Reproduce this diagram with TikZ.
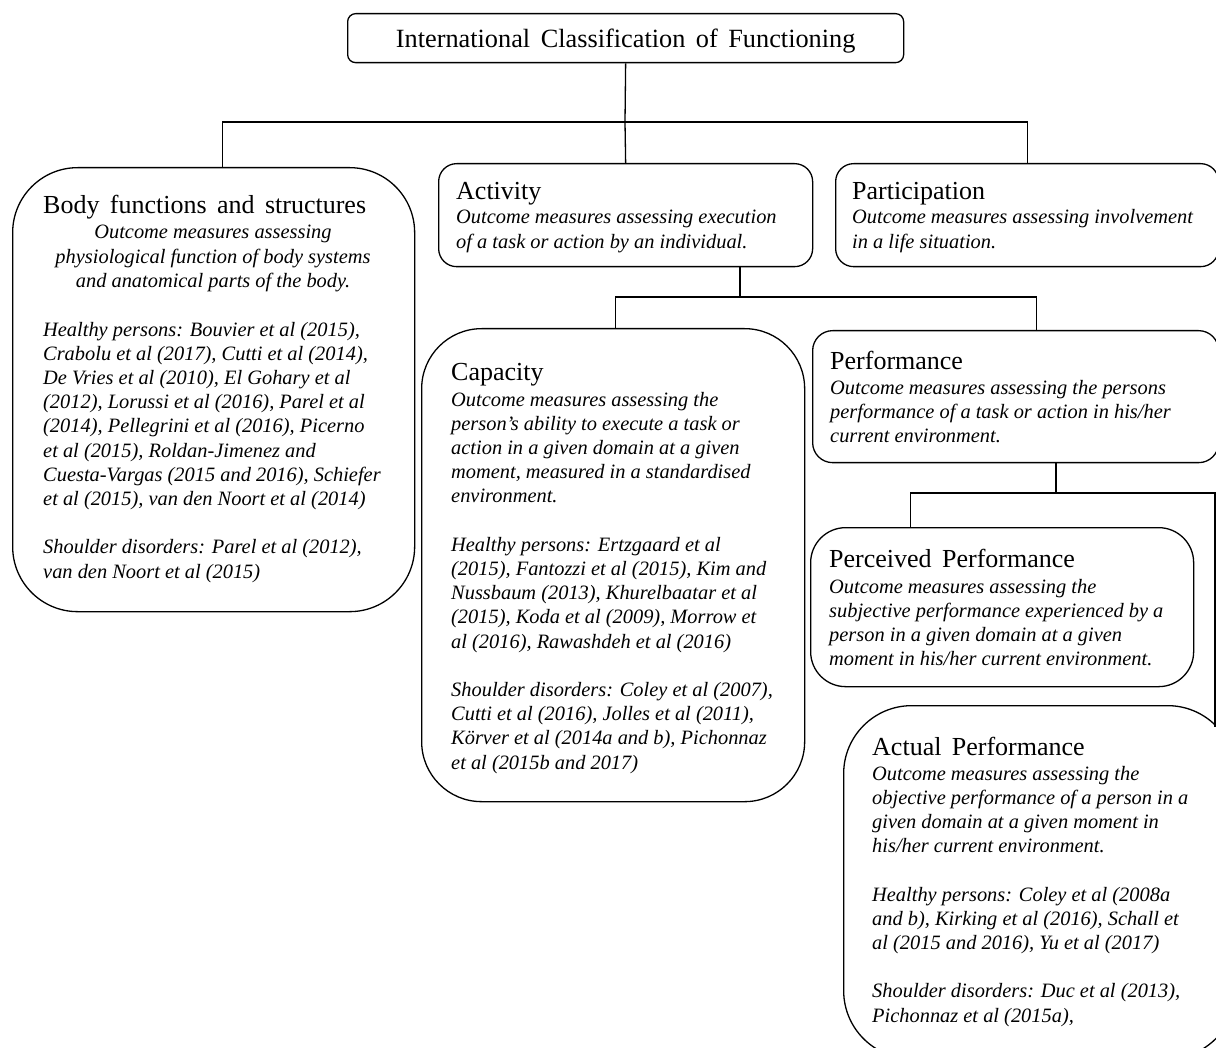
\documentclass[tikz,border=0pt]{standalone}
\usepackage{fontspec}
\setmainfont{Liberation Serif}
\newfontfamily\hdfamily[WordSpace=1.6]{Liberation Serif}
\begin{document}
\begin{tikzpicture}[x=1pt,y=-1pt,
  box/.style={draw=black, line width=1.3pt, rounded corners=#1, anchor=north west, inner sep=0pt},
  hd/.style={anchor=base west, inner sep=0pt, font=\hdfamily\fontsize{26pt}{30pt}\selectfont},
  ds/.style={anchor=base west, inner sep=0pt, align=left, font=\fontsize{20.4pt}{24.2pt}\selectfont\itshape},
  ln/.style={line width=1.3pt}]
\useasboundingbox (0,0) rectangle (1216,1048);
\fill[white] (0,0) rectangle (1216,1048);
\clip (0,0) rectangle (1216,1048);

% boxes
\node[box=8pt, minimum width=556pt, minimum height=49pt] (icf) at (347,13) {};
\node[box=65pt, minimum width=402pt, minimum height=444pt] (body) at (12,167) {};
\node[box=18pt, minimum width=374pt, minimum height=103pt] (act) at (438,163) {};
\node[box=18pt, minimum width=383pt, minimum height=103pt] (part) at (835,163) {};
\node[box=60pt, minimum width=383pt, minimum height=473pt] (cap) at (421,328) {};
\node[box=20pt, minimum width=406pt, minimum height=132pt] (perf) at (812,330) {};
\node[box=35pt, minimum width=383pt, minimum height=159pt] (perc) at (810,527) {};
\node[box=68pt, minimum width=392pt, minimum height=353pt] (actual) at (843,705) {};

% connectors
\coordinate (j1) at (625,122);
\coordinate (j2) at (740,297);
\coordinate (j3) at (1056,493);
\coordinate (fe) at (1215,727);
\draw[ln] (icf.south) -- (j1);
\draw[ln] ([xshift=9pt]body.north) |- (j1) -| (part.north);
\draw[ln] (j1) -- (act.north);
\draw[ln] (act.south -| j2) -- (j2);
\draw[ln] ([xshift=2.5pt]cap.north) |- (j2) -| ([xshift=21pt]perf.north);
\draw[ln] (perf.south -| j3) -- (j3);
\draw[ln] ([xshift=-91.5pt]perc.north) |- (j3) -| (fe);

% texts (multi-line nodes are anchored at the baseline of their last line)
\node[inner sep=0pt, font=\hdfamily\fontsize{26.3pt}{30pt}\selectfont] (icft) at ([yshift=-3pt]icf.center) {International Classification of Functioning};

\node[hd] (bodyh) at (43,214) {Body functions and structures};
\node[ds, anchor=base, align=center] (bodyd) at (213,287.4) {Outcome measures assessing\\physiological function of body systems\\and anatomical parts of the body.};
\node[ds] (bodyr) at (43,578) {Healthy persons: Bouvier et al (2015),\\Crabolu et al (2017), Cutti et al (2014),\\De Vries et al (2010), El Gohary et al\\(2012), Lorussi et al (2016), Parel et al\\(2014), Pellegrini et al (2016), Picerno\\et al (2015), Roldan-Jimenez and\\Cuesta-Vargas (2015 and 2016), Schiefer\\et al (2015), van den Noort et al (2014)\\[24.2pt]Shoulder disorders: Parel et al (2012),\\van den Noort et al (2015)};

\node[hd] (acth) at (456,200) {Activity};
\node[ds] (actd) at (456,248.2) {Outcome measures assessing execution\\of a task or action by an individual.};

\node[hd] (parth) at (852,200) {Participation};
\node[ds] (partd) at (852,248.2) {Outcome measures assessing involvement\\in a life situation.};

\node[hd] (caph) at (451,381) {Capacity};
\node[ds] (capd) at (451,769) {Outcome measures assessing the\\person’s ability to execute a task or\\action in a given domain at a given\\moment, measured in a standardised\\environment.\\[24.2pt]Healthy persons: Ertzgaard et al\\(2015), Fantozzi et al (2015), Kim and\\Nussbaum (2013), Khurelbaatar et al\\(2015), Koda et al (2009), Morrow et\\al (2016), Rawashdeh et al (2016)\\[24.2pt]Shoulder disorders: Coley et al (2007),\\Cutti et al (2016), Jolles et al (2011),\\Körver et al (2014a and b), Pichonnaz\\et al (2015b and 2017)};

\node[hd] (perfh) at (830,370) {Performance};
\node[ds] (perfd) at (830,442.4) {Outcome measures assessing the persons\\performance of a task or action in his/her\\current environment.};

\node[hd] (perch) at (829,567) {Perceived Performance};
\node[ds] (percd) at (829,665.6) {Outcome measures assessing the\\subjective performance experienced by a\\person in a given domain at a given\\moment in his/her current environment.};

\node[hd] (actualh) at (872,755) {Actual Performance};
\node[ds] (actuald) at (872,1022) {Outcome measures assessing the\\objective performance of a person in a\\given domain at a given moment in\\his/her current environment.\\[24.2pt]Healthy persons: Coley et al (2008a\\and b), Kirking et al (2016), Schall et\\al (2015 and 2016), Yu et al (2017)\\[24.2pt]Shoulder disorders: Duc et al (2013),\\Pichonnaz et al (2015a),};
\end{tikzpicture}
\end{document}
